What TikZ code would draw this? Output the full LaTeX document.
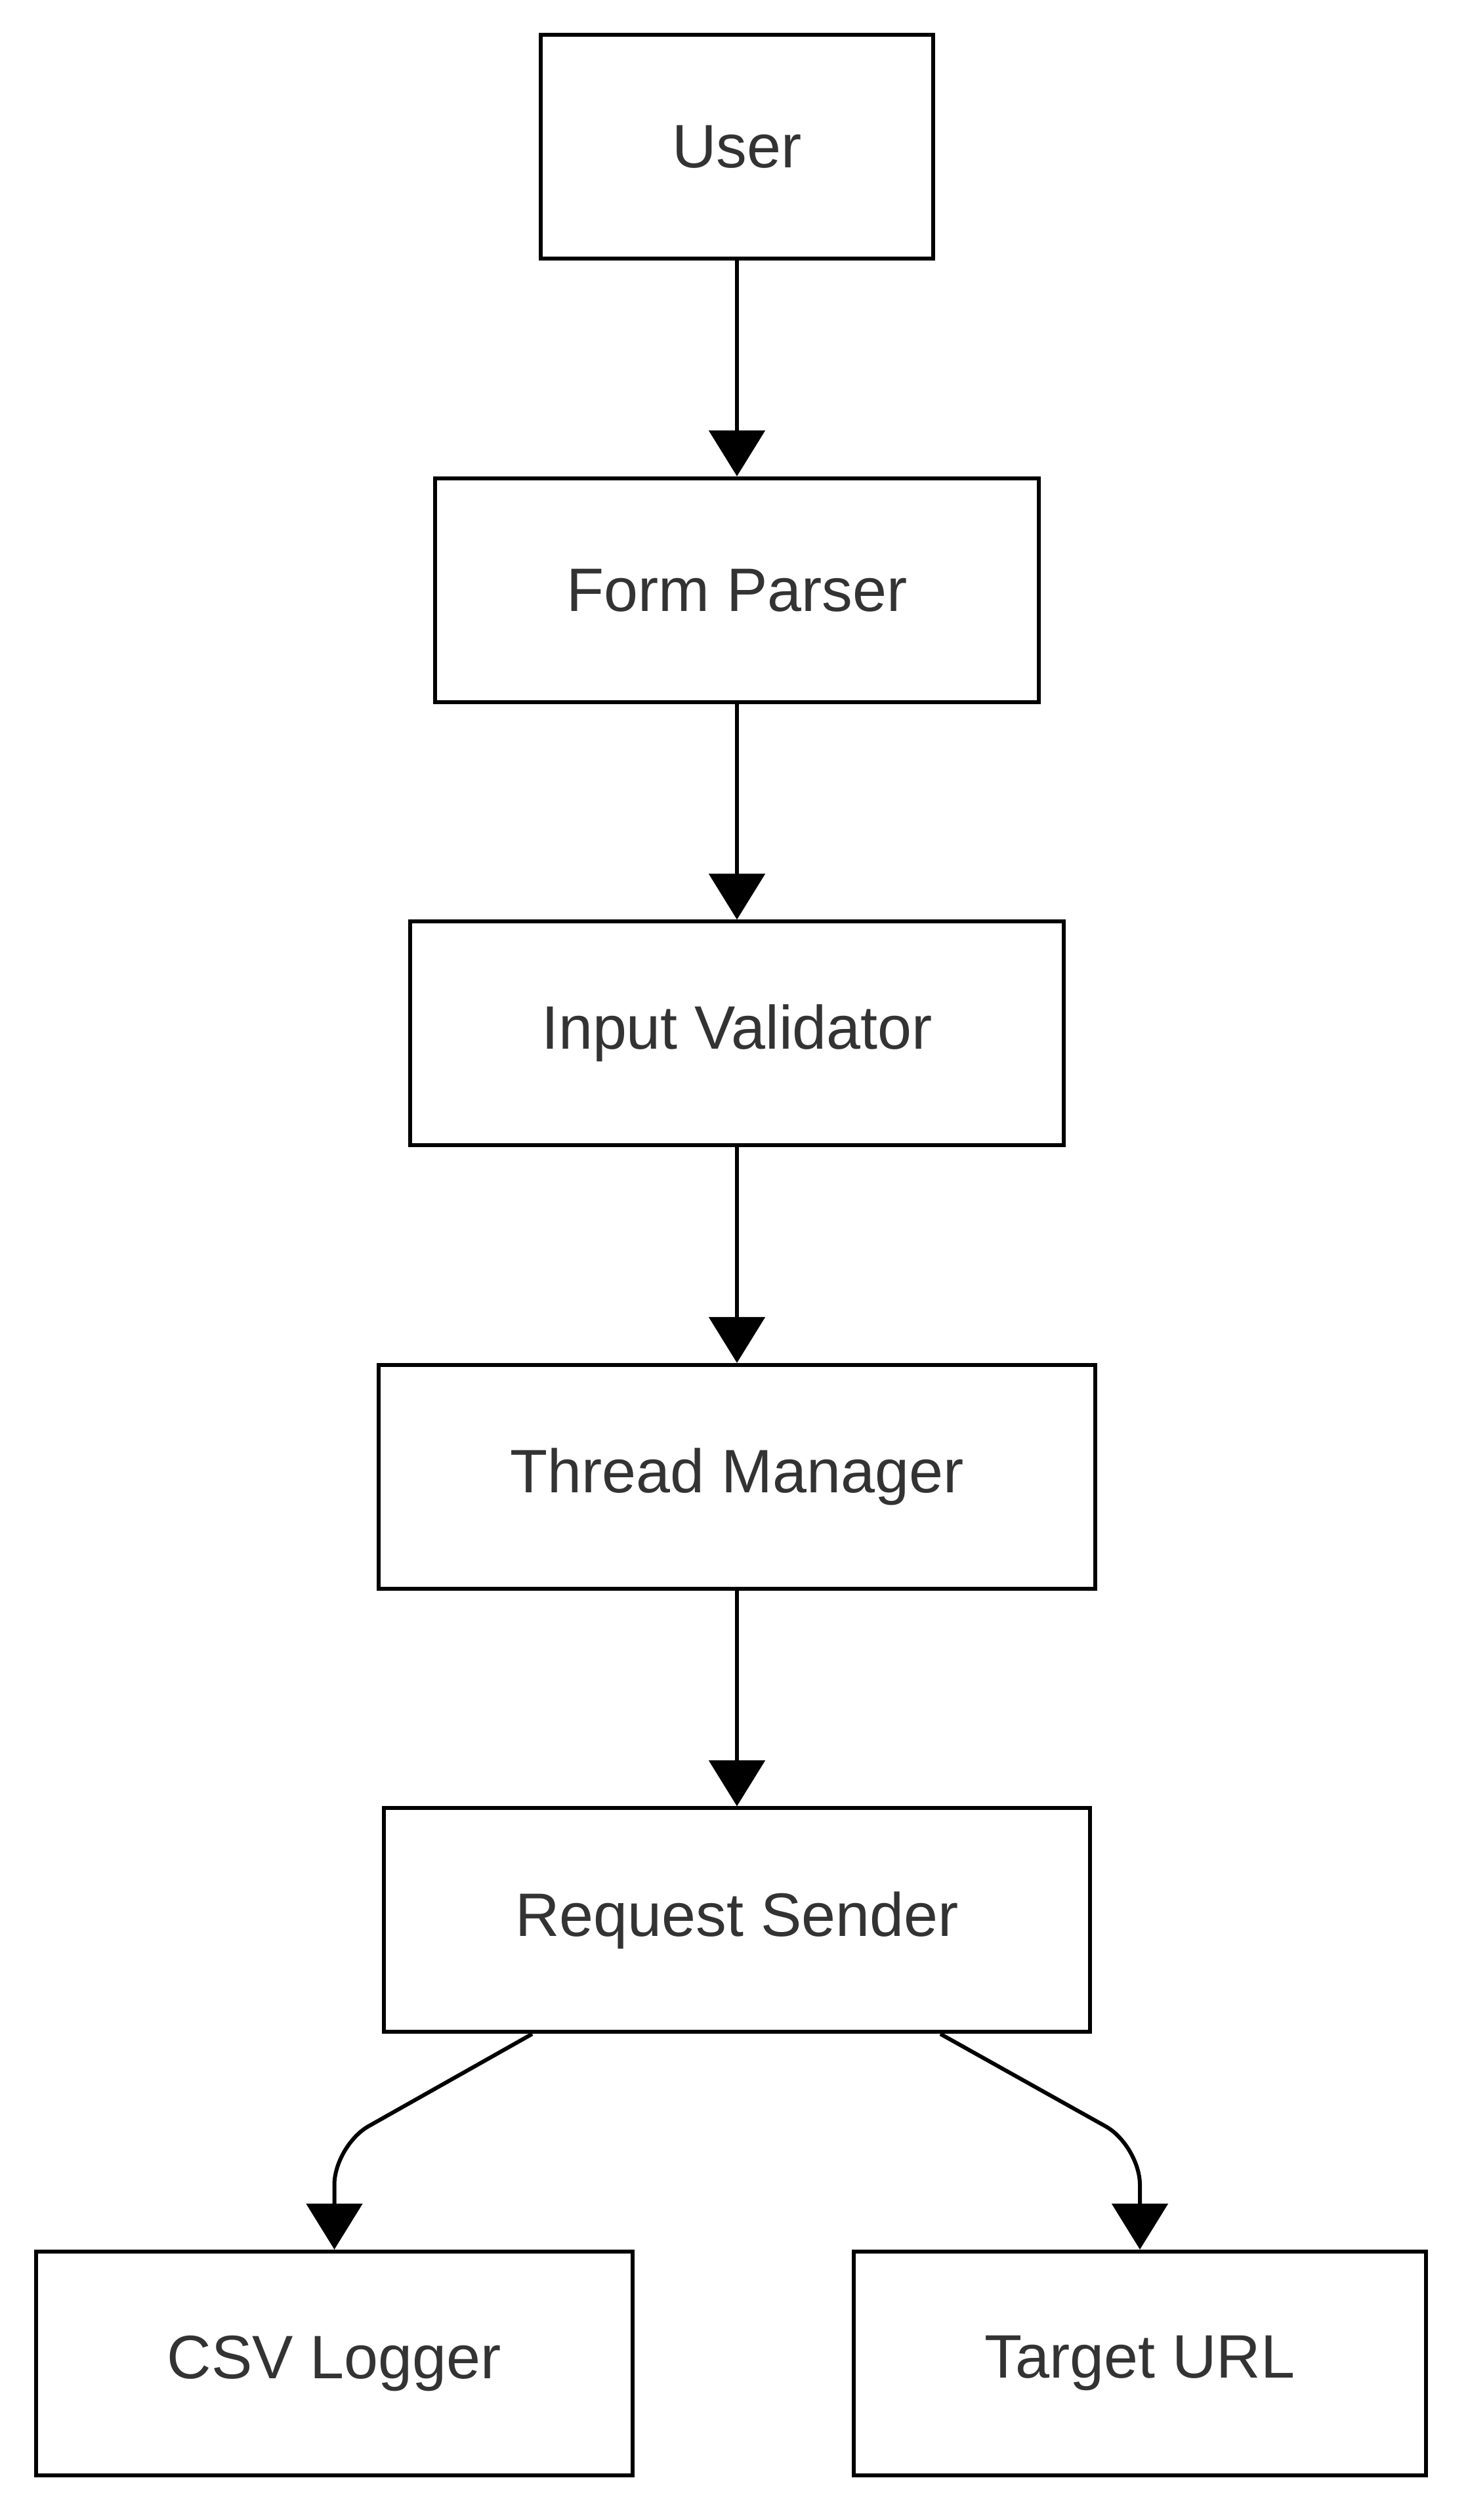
\documentclass[tikz,border=0pt]{standalone}
\usepackage{fontspec}
\setmainfont{Liberation Sans}
\usepackage[HTML]{xcolor}
\usepackage{tikz}
\usetikzlibrary{arrows.meta}
\definecolor{txt}{HTML}{333333}

\begin{document}
\begin{tikzpicture}[
  box/.style={draw=black, fill=white, line width=0.06cm, minimum height=3.41cm,
    inner xsep=2.0cm, text=txt, font=\fontsize{26.6}{32}\selectfont},
  arr/.style={line width=0.06cm, -{Triangle[length=0.7cm, width=0.85cm]}}]
\useasboundingbox (0,0) rectangle (22.36,-38.40);
\node[box] (user) at (11.23,-2.238) {User};
\node[box] (parser) at (11.23,-8.993) {Form Parser};
\node[box] (validator) at (11.23,-15.748) {Input Validator};
\node[box] (threads) at (11.23,-22.503) {Thread Manager};
\node[box] (sender) at (11.23,-29.258) {Request Sender};
\node[box] (csv) at (5.095,-36.013) {CSV Logger};
\node[box] (target) at (17.37,-36.013) {Target URL};
\draw[arr] (user) -- (parser);
\draw[arr] (parser) -- (validator);
\draw[arr] (validator) -- (threads);
\draw[arr] (threads) -- (sender);
\draw[arr, rounded corners=0.6cm] ([xshift=-3.12cm]sender.south)
  -- ([yshift=-1.7cm]sender.south -| csv.north) -- (csv.north);
\draw[arr, rounded corners=0.6cm] ([xshift=3.1cm]sender.south)
  -- ([yshift=-1.7cm]sender.south -| target.north) -- (target.north);
\end{tikzpicture}
\end{document}
